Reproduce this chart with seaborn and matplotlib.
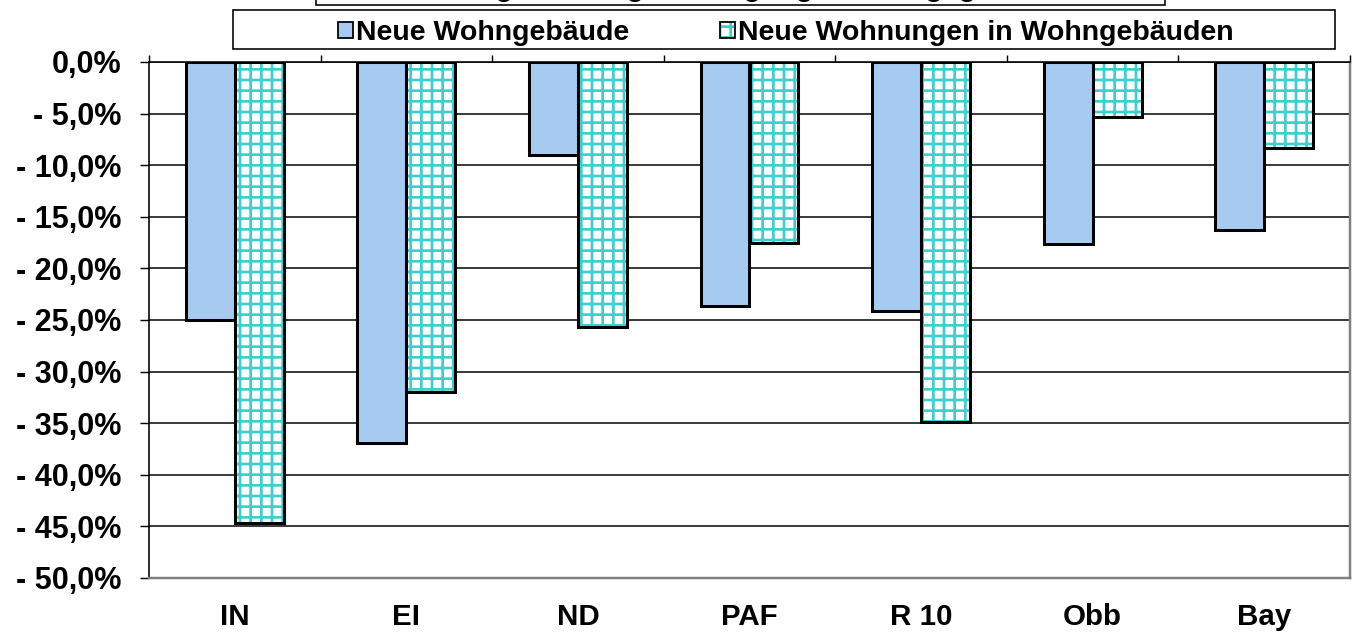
import numpy as np
import pandas as pd
import matplotlib
matplotlib.use("Agg")
import matplotlib.pyplot as plt
import matplotlib.colors as mcolors
from matplotlib.patches import Patch, Rectangle
import seaborn as sns

# data (percent change)
regions = ["IN", "EI", "ND", "PAF", "R 10", "Obb", "Bay"]
neue_wohngebaeude = [-25.0, -36.9, -9.0, -23.6, -24.1, -17.6, -16.3]
neue_wohnungen = [-44.7, -32.0, -25.7, -17.5, -34.9, -5.3, -8.3]
series_names = ["Neue Wohngebäude", "Neue Wohnungen in Wohngebäuden"]
yticks = [0, -5, -10, -15, -20, -25, -30, -35, -40, -45, -50]
ytick_labels = ["0,0%", "- 5,0%", "- 10,0%", "- 15,0%", "- 20,0%", "- 25,0%",
                "- 30,0%", "- 35,0%", "- 40,0%", "- 45,0%", "- 50,0%"]
title = "Veränderung der Baugenehmigungen 2012 gegenüber 2011"

blue = "#A6CAF0"
teal = "#3DCFCF"

df = pd.DataFrame({
    "region": regions * 2,
    "value": neue_wohngebaeude + neue_wohnungen,
    "series": [series_names[0]] * len(regions) + [series_names[1]] * len(regions),
})

W, H, DPI = 1353, 633, 128   # dpi 128 so the '++' hatch gets ~10.7 px cells

sns.set_style("white")
plt.rcParams["font.family"] = ["Liberation Sans", "DejaVu Sans"]
plt.rcParams["font.weight"] = "bold"
plt.rcParams["hatch.linewidth"] = 1.5
plt.rcParams["text.color"] = "black"
plt.rcParams["xtick.labelcolor"] = "black"
plt.rcParams["ytick.labelcolor"] = "black"

fig = plt.figure(figsize=(W / DPI, H / DPI), dpi=DPI)
ax = fig.add_axes([149 / W, 1 - 578 / H, (1350 - 149) / W, (578 - 62) / H])

sns.barplot(data=df, x="region", y="value", hue="series", palette=[blue, "white"],
            saturation=1, width=0.571, edgecolor="black", linewidth=1.7,
            legend=False, ax=ax, zorder=3)

# checkered teal hatch on the second series
for p in ax.containers[1]:
    p.set_hatch("++")
    if hasattr(p, "set_hatchcolor"):
        p.set_hatchcolor(teal)
    else:
        p._hatch_color = mcolors.to_rgba(teal)

ax.set_ylim(-50, 0)
ax.set_xlim(-0.5, len(regions) - 0.5)
ax.set_yticks(yticks)
ax.set_yticklabels(ytick_labels, fontsize=17.2, fontweight="bold", color="black")
ax.set_xticklabels(regions, fontsize=16.6, fontweight="bold", color="black")
ax.set_xlabel("")
ax.set_ylabel("")

ax.yaxis.grid(True, color="black", linewidth=0.85)
ax.set_axisbelow(True)

ax.tick_params(axis="y", left=True, length=5, width=0.8, color="black", pad=10.5)
ax.tick_params(axis="x", which="major", length=0, pad=14)
ax.set_xticks(np.arange(-0.5, len(regions)), minor=True)
ax.tick_params(axis="x", which="minor", top=True, bottom=False, direction="out",
               length=4, width=0.8, color="black")

for side in ["left", "top"]:
    ax.spines[side].set_color("black")
    ax.spines[side].set_linewidth(0.9)
for side in ["right", "bottom"]:
    ax.spines[side].set_color("#808080")
    ax.spines[side].set_linewidth(1.4)

# title box (mostly hidden behind the legend, as in the original)
fig.patches.append(Rectangle((316 / W, 1 - 5 / H), (1165 - 316) / W, 0.2,
                             transform=fig.transFigure, facecolor="white",
                             edgecolor="black", linewidth=0.9, zorder=1))
fig.text(740 / W, 1 + 4 / H, title, ha="center", va="baseline",
         fontsize=16, fontweight="bold", color="black", zorder=2)

# legend box
fig.patches.append(Rectangle((233 / W, 1 - 49 / H), (1335 - 233) / W, 39 / H,
                             transform=fig.transFigure, facecolor="white",
                             edgecolor="black", linewidth=0.9, zorder=4))
handles = [Patch(facecolor=blue, edgecolor="black", linewidth=1.0),
           Patch(facecolor="white", edgecolor="black", linewidth=1.0)]
leg = fig.legend(handles, series_names, loc="center", ncol=2,
                 bbox_to_anchor=(786 / W, 1 - 33 / H), frameon=False,
                 columnspacing=3.2, handlelength=0.5, handleheight=0.5,
                 handletextpad=0.12, prop={"size": 16, "weight": "bold"})
leg.set_zorder(5)
for t in leg.get_texts():
    t.set_color("black")
hp = leg.legend_handles[1]
hp.set_hatch("++")
if hasattr(hp, "set_hatchcolor"):
    hp.set_hatchcolor(teal)
else:
    hp._hatch_color = mcolors.to_rgba(teal)

fig.savefig("out.png", dpi=DPI)
